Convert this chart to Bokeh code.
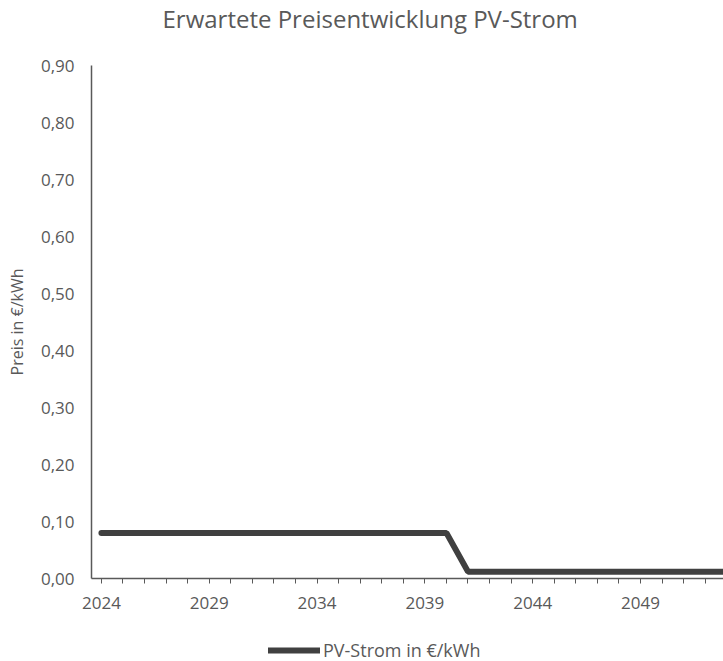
from bokeh.plotting import figure
from bokeh.layouts import column
from bokeh.models import FixedTicker, Legend, LegendItem, Range1d, CustomJSTickFormatter, Title
from bokeh.embed import file_html
from bokeh.resources import INLINE

years = [2024, 2025, 2026, 2027, 2028, 2029, 2030, 2031, 2032, 2033, 2034, 2035,
         2036, 2037, 2038, 2039, 2040, 2041, 2042, 2043, 2044, 2045, 2046, 2047,
         2048, 2049, 2050, 2051, 2052, 2053]
prices = [0.08, 0.08, 0.08, 0.08, 0.08, 0.08, 0.08, 0.08, 0.08, 0.08, 0.08, 0.08,
          0.08, 0.08, 0.08, 0.08, 0.08, 0.012, 0.012, 0.012, 0.012, 0.012, 0.012, 0.012,
          0.012, 0.012, 0.012, 0.012, 0.012, 0.012]
label_years = [2024, 2029, 2034, 2039, 2044, 2049]
y_ticks = [0.0, 0.1, 0.2, 0.3, 0.4, 0.5, 0.6, 0.7, 0.8, 0.9]

TXT = "#595959"
LINE = "#404040"
FONT = "Open Sans"

p = figure(width=723, height=620, output_backend="svg", toolbar_location=None,
           x_range=Range1d(2023.54, 2052.85), y_range=Range1d(0, 0.9),
           min_border_left=91, min_border_right=0, min_border_top=0, min_border_bottom=42)
p.title = None
# spacer between frame and title
p.add_layout(Title(text=" ", text_font_size="1px", standoff=25), "above")
p.add_layout(Title(text="Erwartete Preisentwicklung PV-Strom", align="left", vertical_align="top",
                   text_font=FONT, text_font_size="24px", text_font_style="normal",
                   text_color=TXT, offset=71, standoff=2), "above")
p.outline_line_color = None
p.xgrid.grid_line_color = None
p.ygrid.grid_line_color = None
p.background_fill_color = "white"
p.border_fill_color = "white"

r = p.line(years, prices, line_color=LINE, line_width=6, line_cap="round")

# x axis
xa = p.xaxis[0]
xa.ticker = FixedTicker(ticks=years)
xa.major_label_overrides = {y: (str(y) if y in label_years else "") for y in years}
xa.major_tick_out = 5
xa.major_tick_in = 0
xa.minor_tick_out = 0
xa.minor_tick_in = 0
xa.major_tick_line_color = TXT
xa.axis_line_color = TXT
xa.axis_line_width = 1.3
xa.major_label_text_font = FONT
xa.major_label_text_font_size = "17px"
xa.major_label_text_color = TXT
xa.major_label_standoff = 13

# y axis
ya = p.yaxis[0]
ya.ticker = FixedTicker(ticks=y_ticks)
ya.formatter = CustomJSTickFormatter(code="return tick.toFixed(2).replace('.', ',');")
ya.major_tick_out = 0
ya.major_tick_in = 0
ya.minor_tick_out = 0
ya.minor_tick_in = 0
ya.axis_line_color = TXT
ya.axis_line_width = 1.5
ya.major_label_text_font = FONT
ya.major_label_text_font_size = "17px"
ya.major_label_text_color = TXT
ya.major_label_standoff = 17
ya.axis_label = "Preis in €/kWh"
ya.axis_label_text_font = FONT
ya.axis_label_text_font_size = "16px"
ya.axis_label_text_font_style = "normal"
ya.axis_label_text_color = TXT
ya.axis_label_standoff = 10

# legend strip (separate small figure; its copy of the series lies outside its view)
lg = figure(width=723, height=41, output_backend="svg", toolbar_location=None,
            x_range=Range1d(0, 1), y_range=Range1d(10, 11),
            min_border=0, x_axis_type=None, y_axis_type=None)
lg.outline_line_color = None
lg.xgrid.grid_line_color = None
lg.ygrid.grid_line_color = None
lr = lg.line(years, prices, line_color=LINE, line_width=6, line_cap="round")
legend = Legend(items=[LegendItem(label="PV-Strom in €/kWh", renderers=[lr])],
                orientation="horizontal", location=(177, -1),
                label_text_font=FONT, label_text_font_size="18px", label_text_color=TXT,
                glyph_width=52, glyph_height=20, label_standoff=3, border_line_color=None,
                background_fill_alpha=0, padding=0, margin=0)
lg.add_layout(legend, "center")

layout = column(p, lg, spacing=0)
open("out.html", "w").write(file_html(layout, INLINE))
